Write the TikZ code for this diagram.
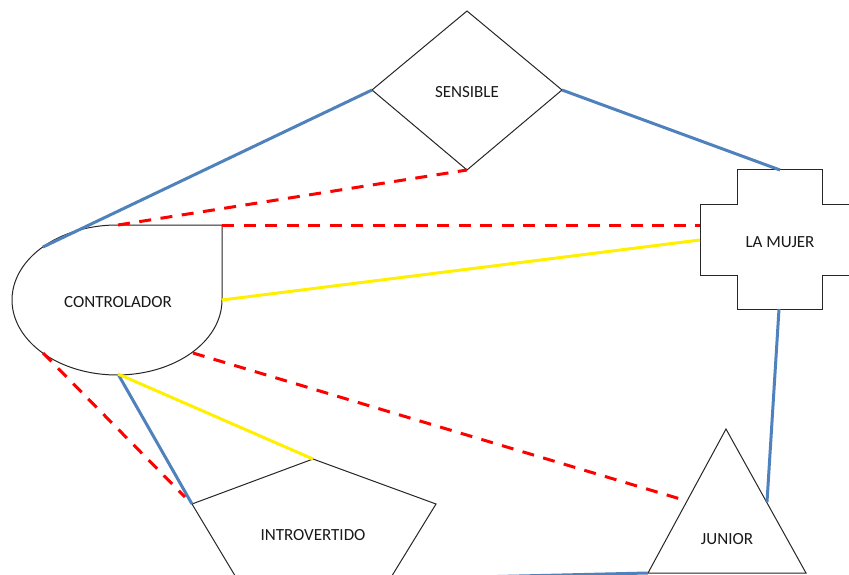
\documentclass[tikz,border=0pt]{standalone}
\usepackage{fontspec}
\setmainfont{Carlito}
\begin{document}
\begin{tikzpicture}[x=1pt,y=-1pt,
  shapeline/.style={draw=black!85, line width=1pt, fill=white},
  label/.style={font=\fontsize{17}{20}\selectfont, text=black!90, inner sep=0pt},
  bluelink/.style={draw={rgb,255:red,79;green,129;blue,189}, line width=3pt},
  redlink/.style={draw=red, line width=3pt, dash pattern=on 12pt off 9.5pt},
  yellowlink/.style={draw={rgb,255:red,255;green,240;blue,0}, line width=3pt}]
\useasboundingbox (0,0) rectangle (849,575);
\clip (0,0) rectangle (849,575);

% SENSIBLE: diamond
\draw[shapeline] (467,11) -- (562,90) -- (467,170) -- (372,90) -- cycle;
\coordinate (sensL) at (372,90);
\coordinate (sensR) at (562,90);
\coordinate (sensB) at (467,170);
\node[label] (sensible) at (467,92) {SENSIBLE};

% LA MUJER: cross
\draw[shapeline] (737,170) -- (822,170) -- (822,204) -- (859,204) -- (859,275)
  -- (822,275) -- (822,309) -- (737,309) -- (737,275) -- (700,275)
  -- (700,204) -- (737,204) -- cycle;
\coordinate (mujT) at (780,170);
\coordinate (mujW1) at (700,225);
\coordinate (mujW2) at (700,240);
\coordinate (mujS) at (779,309);
\node[label] (mujer) at (780,242) {LA MUJER};

% CONTROLADOR: half ellipse with a square upper right corner
\draw[shapeline] (117,225) -- (222,225) -- (222,300)
  -- plot[domain=0:270, samples=120] ({117+105*cos(\x)},{300+75*sin(\x)}) -- cycle;
\coordinate (ctlNW) at (43,247);
\coordinate (ctlT) at (118,225);
\coordinate (ctlNE) at (222,225);
\coordinate (ctlE) at (222,300);
\coordinate (ctlSE) at (193,353);
\coordinate (ctlS) at (118,374);
\coordinate (ctlSW) at (43,353);
\node[label] (controlador) at (118,302) {CONTROLADOR};

% INTROVERTIDO: pentagon
\draw[shapeline] (313,459) -- (436,504) -- (390,579) -- (237,579) -- (192,504) -- cycle;
\coordinate (intT) at (313,459);
\coordinate (intL) at (192,504);
\coordinate (intLnear) at (185,497);
\coordinate (intBR) at (390,579);
\node[label] (introvertido) at (313,535) {INTROVERTIDO};

% JUNIOR: triangle
\draw[shapeline] (726,429) -- (806,573) -- (648,573) -- cycle;
\coordinate (junW) at (687,501);
\coordinate (junE) at (767,502);
\coordinate (junBL) at (648,573);
\node[label] (junior) at (727,539) {JUNIOR};

% connectors
\draw[bluelink] (sensL) -- (ctlNW);
\draw[bluelink] (sensR) -- (mujT);
\draw[bluelink] (mujS) -- (junE);
\draw[bluelink] (ctlS) -- (intL);
\draw[bluelink] (intBR) -- (junBL);

\draw[redlink] (ctlT) -- (sensB);
\draw[redlink] (ctlNE) -- (mujW1);
\draw[redlink] (ctlSE) -- (junW);
\draw[redlink] (ctlSW) -- (intLnear);

\draw[yellowlink] (ctlE) -- (mujW2);
\draw[yellowlink] (ctlS) -- (intT);
\end{tikzpicture}
\end{document}
